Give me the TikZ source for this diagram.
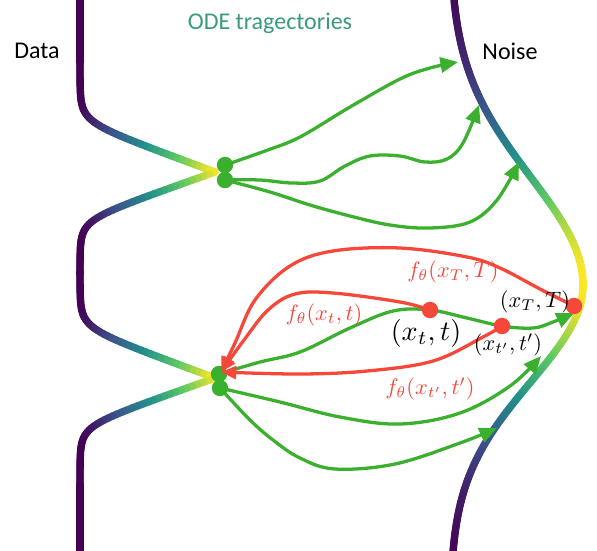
\documentclass[tikz,border=0pt]{standalone}
\usepackage{graphicx}
\usepackage{fontspec}
\newfontfamily\calfont{Carlito}
\usetikzlibrary{arrows.meta}
\definecolor{vc0}{HTML}{440154}
\definecolor{vc1}{HTML}{3B528B}
\definecolor{vc2}{HTML}{21918C}
\definecolor{vc3}{HTML}{5EC962}
\definecolor{vc4}{HTML}{FDE725}
\definecolor{gcol}{HTML}{3BB02E}
\definecolor{rcol}{HTML}{F5473A}
\definecolor{tcol}{HTML}{3A9A7E}
\colorlet{vc}{vc0}
\newcommand\virset[1]{%
  \pgfmathsetmacro\vq{4*max(0,min(1,#1))}%
  \pgfmathtruncatemacro\vi{min(3,int(\vq))}%
  \pgfmathsetmacro\vp{100*(\vq-\vi)}%
  \pgfmathtruncatemacro\vj{\vi+1}%
  \edef\vtmp{\noexpand\colorlet{vc}{vc\vj!\vp!vc\vi}}\vtmp}
\pgfmathdeclarefunction{spk}{1}{\pgfmathparse{0.15*ln(1+exp(max(#1/0.15,-9)))}}
\pgfmathdeclarefunction{datap}{1}{\pgfmathparse{spk(1-((#1<172) ? ((172-#1)/50) : ((#1-172)/48))) + spk(1-((#1<378) ? ((378-#1)/50) : ((#1-378)/48)))}}
\pgfmathdeclarefunction{noisep}{1}{\pgfmathparse{exp(-0.5*(((#1-285)/((#1<285) ? 108 : 97))^2))}}
\newcommand\mlab[2]{\scalebox{#1}{$#2$}}
\tikzset{
  distline/.style={line width=6.3pt, line cap=round, draw=vc},
  gline/.style={draw=gcol, line width=2.8pt, -{Triangle[length=15pt,width=13pt]}},
  rline/.style={draw=rcol, line width=2.8pt, -{Triangle[length=13pt,width=11pt]}},
  gdot/.style={circle, fill=gcol, inner sep=0pt, minimum size=14pt},
  rdot/.style={circle, fill=rcol, inner sep=0pt, minimum size=14pt},
  rlab/.style={text=rcol, inner sep=0pt},
  blab/.style={text=black, inner sep=0pt},
  ttl/.style={inner sep=0pt, font=\calfont\fontsize{20.5}{24}\selectfont},
}
\begin{document}
\begin{tikzpicture}[x=0.03cm,y=-0.03cm]
\useasboundingbox (0,0) rectangle (597,550);
% data distribution
\foreach \i in {0,...,275}{
  \pgfmathsetmacro\ya{2*\i}
  \pgfmathsetmacro\yb{\ya+2}
  \pgfmathsetmacro\pa{datap(\ya)}
  \pgfmathsetmacro\pb{datap(\yb)}
  \virset{(\pa+\pb)/2}
  \draw[distline] ({80+135*\pa},\ya) -- ({80+135*\pb},\yb);
}
% noise distribution
\foreach \i in {0,...,275}{
  \pgfmathsetmacro\ya{2*\i}
  \pgfmathsetmacro\yb{\ya+2}
  \pgfmathsetmacro\pa{noisep(\ya)}
  \pgfmathsetmacro\pb{noisep(\yb)}
  \virset{(\pa+\pb)/2}
  \draw[distline] ({450+133*\pa},\ya) -- ({450+133*\pb},\yb);
}
% titles
\node[ttl] (data) at (37,51) {Data};
\node[ttl] (noise) at (510,51) {Noise};
\node[ttl, text=tcol] (title) at (270,23) {ODE tragectories};
% points
\coordinate (pxT) at (574,306);
\coordinate (pxt) at (430,310);
\coordinate (pxtp) at (502,326);
\coordinate (nA) at (458,62);
\coordinate (nB) at (479,105);
\coordinate (nC) at (519,162);
\coordinate (nD) at (574,313);
\coordinate (nE) at (541,356);
\coordinate (nF) at (497,428);
\coordinate (tg) at (221,372);
\node[gdot] (gA) at (225,165) {};
\node[gdot] (gB) at (225,180) {};
\node[gdot] (gC) at (219,374) {};
\node[gdot] (gD) at (220,388) {};
% green trajectories
\draw[gline] plot[smooth, tension=0.6] coordinates {(gA) (265,151) (300,137) (350,107) (400,79) (430,68) (nA)};
\draw[gline] plot[smooth, tension=0.6] coordinates {(gB) (260,180) (292,183) (320,181) (345,166) (370,156) (400,156) (425,162) (447,159) (463,143) (nB)};
\draw[gline] plot[smooth, tension=0.6] coordinates {(gB) (270,192) (310,205) (350,216) (390,225) (430,228) (470,222) (497,200) (nC)};
\draw[gline] plot[smooth, tension=0.6] coordinates {(gC) (260,362) (300,352) (350,328) (393,311) (pxt) (467,318) (pxtp) (533,328) (553,322) (nD)};
\draw[gline] plot[smooth, tension=0.6] coordinates {(gD) (280,402) (340,417) (400,424) (460,413) (510,386) (nE)};
\draw[gline] plot[smooth, tension=0.6] coordinates {(gD) (250,420) (273,440) (300,458) (335,469) (395,464) (460,443) (nF)};
% red points
\node[rdot] (xT) at (pxT) {};
\node[rdot] (xt) at (pxt) {};
\node[rdot] (xtp) at (pxtp) {};
% red consistency maps
\draw[rline] plot[smooth, tension=0.6] coordinates {(xT) (540,289) (500,268) (467,257) (400,248) (333,251) (290,266) (255,300) (235,343) (tg)};
\draw[rline] plot[smooth, tension=0.6] coordinates {(xt) (400,302) (333,293) (295,294) (268,310) (244,340) (tg)};
\draw[rline] plot[smooth, tension=0.6] coordinates {(xtp) (483,337) (433,361) (367,371) (300,374) (tg)};
% labels
\node[rlab] (lT) at (453,272) {\mlab{1.9}{f_\theta(x_T,T)}};
\node[rlab] (lt) at (324,315) {\mlab{1.9}{f_\theta(x_t,t)}};
\node[rlab] (ltp) at (430,389) {\mlab{1.9}{f_\theta(x_{t'},t')}};
\node[blab] (bt) at (426,333) {\mlab{2.4}{(x_t,t)}};
\node[blab] (btp) at (508,345) {\mlab{1.9}{(x_{t'},t')}};
\node[blab] (bT) at (535,302) {\mlab{1.9}{(x_T,T)}};
\end{tikzpicture}
\end{document}
